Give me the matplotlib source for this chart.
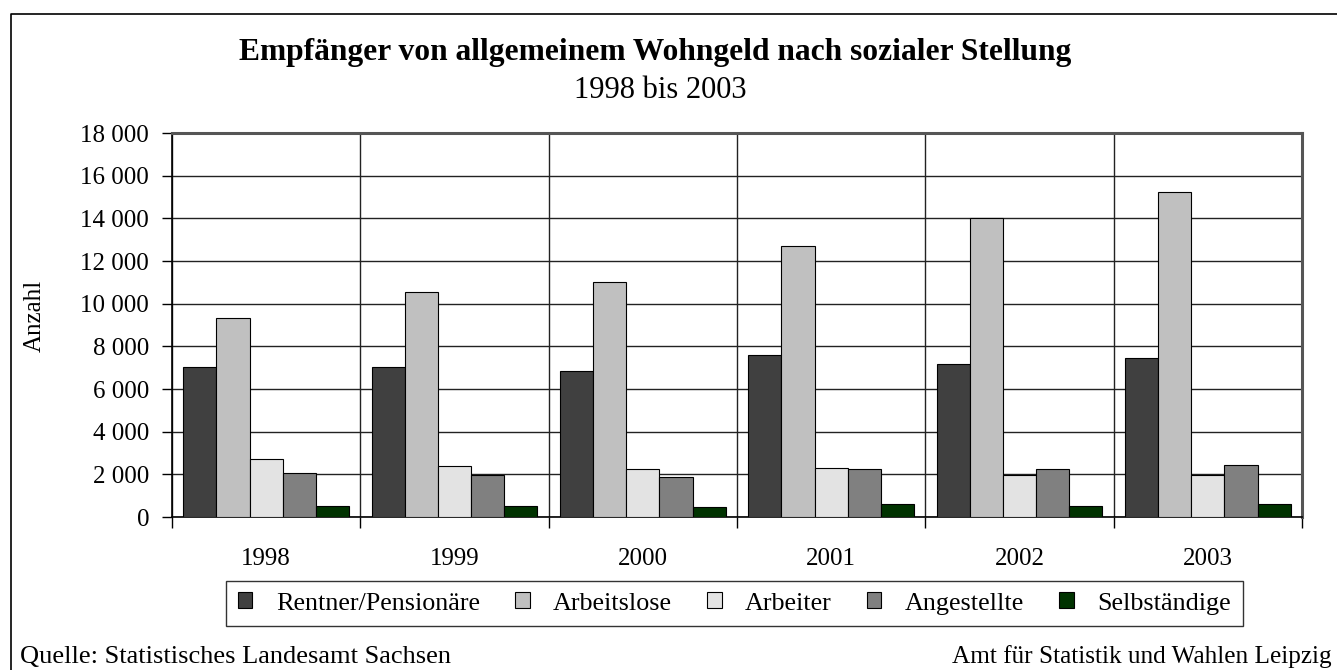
import matplotlib
matplotlib.use('Agg')
import matplotlib.pyplot as plt
from matplotlib.ticker import FuncFormatter
import numpy as np

plt.rcParams['font.family'] = ['Liberation Serif', 'DejaVu Serif']

jahre = ['1998', '1999', '2000', '2001', '2002', '2003']
rentner = [7020, 7020, 6850, 7600, 7170, 7450]
arbeitslose = [9330, 10530, 11000, 12700, 14020, 15250]
arbeiter = [2740, 2370, 2270, 2300, 1950, 1950]
angestellte = [2040, 1960, 1880, 2270, 2240, 2450]
selbstaendige = [500, 500, 470, 590, 530, 590]

gruppen = ['Rentner/Pensionäre', 'Arbeitslose', 'Arbeiter', 'Angestellte', 'Selbständige']
farben = ['#404040', '#c0c0c0', '#e3e3e3', '#808080', '#003300']
werte = [rentner, arbeitslose, arbeiter, angestellte, selbstaendige]

fig = plt.figure(figsize=(13.37, 6.70), dpi=100)
ax = fig.add_axes([172/1337, 1 - 517/670, 1130/1337, 384/670])

x = np.arange(len(jahre))
b = 0.176
for i, (name, w, c) in enumerate(zip(gruppen, werte, farben)):
    ax.bar(x + (i - 2) * b, w, b, color=c, edgecolor='black', linewidth=0.8,
           label=name, zorder=3)

ax.set_xlim(-0.5, 5.5)
ax.set_ylim(0, 18000)
ax.set_yticks(np.arange(0, 18001, 2000))
ax.yaxis.set_major_formatter(FuncFormatter(lambda v, p: f'{int(v):,}'.replace(',', ' ')))
ax.set_xticks(x)
ax.set_xticklabels(jahre)
ax.set_xticks(np.arange(-0.5, 6, 1), minor=True)
ax.tick_params(axis='x', which='major', length=0, pad=22, labelsize=18)
ax.tick_params(axis='x', which='minor', length=8, width=1, direction='out')
ax.tick_params(axis='y', length=7.5, width=1, labelsize=18, pad=9)
ax.grid(axis='y', color='#222222', linewidth=1, zorder=0)
ax.grid(axis='x', which='minor', color='#222222', linewidth=1, zorder=0)
ax.set_axisbelow(True)
for s in ['top', 'right']:
    ax.spines[s].set_color('#555555')
    ax.spines[s].set_linewidth(2.2)
for s in ['left', 'bottom']:
    ax.spines[s].set_linewidth(1.2)
ax.set_ylabel('Anzahl', fontsize=18)
ax.yaxis.set_label_coords((46 - 172) / 1130, 0.523)

fig.text(655/1337, 1 - 60/670, 'Empfänger von allgemeinem Wohngeld nach sozialer Stellung',
         ha='center', va='baseline', fontsize=22.7, fontweight='bold')
fig.text(660/1337, 1 - 98/670, '1998 bis 2003', ha='center', va='baseline', fontsize=22)

leg = fig.legend(loc='center', bbox_to_anchor=(734.5/1337, 1 - 603.5/670), ncol=5,
                 fontsize=18.8, frameon=True, fancybox=False, edgecolor='black',
                 handlelength=0.55, handleheight=0.55, columnspacing=1.35,
                 handletextpad=0.9, borderpad=0.45)
leg.get_frame().set_linewidth(1.0)

fig.text(20/1337, 1 - 663/670, 'Quelle: Statistisches Landesamt Sachsen',
         ha='left', va='baseline', fontsize=19)
fig.text(1332/1337, 1 - 663/670, 'Amt für Statistik und Wahlen Leipzig',
         ha='right', va='baseline', fontsize=18.2)

# Rahmen
fig.add_artist(plt.Line2D([11/1337, 11/1337, 1], [0, 1 - 14/670, 1 - 14/670],
                          transform=fig.transFigure, color='black', linewidth=1.2))

fig.savefig('out.png', dpi=100)
